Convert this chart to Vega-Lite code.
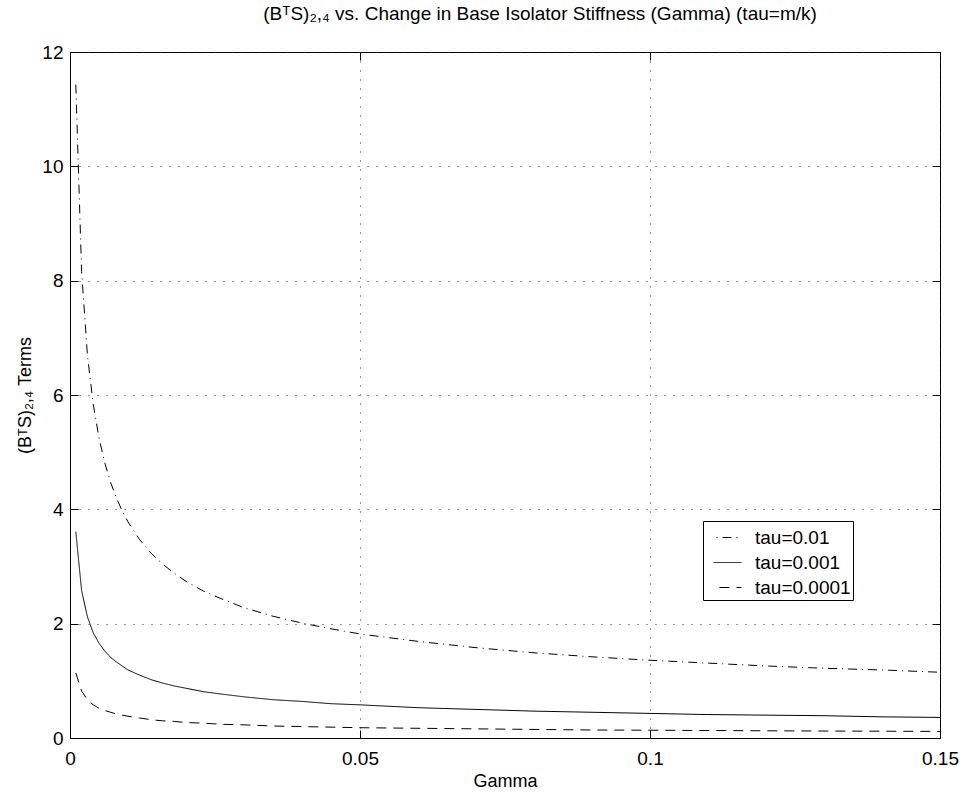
{
  "$schema": "https://vega.github.io/schema/vega-lite/v6.json",
  "width": 870,
  "height": 686,
  "autosize": {"type": "none"},
  "padding": {"left": 70, "top": 52, "right": 25, "bottom": 54},
  "background": "white",
  "config": {
    "font": "Liberation Sans",
    "view": {"stroke": "black", "strokeWidth": 1}
  },
  "title": {
    "text": "(BᵀS)₂,₄ vs. Change in Base Isolator Stiffness (Gamma) (tau=m/k)",
    "fontSize": 19,
    "fontWeight": "normal",
    "color": "black",
    "offset": 19,
    "dx": 35
  },
  "data": {
    "values": [
      {"gamma": 0.001, "series": "tau=0.01", "value": 11.43},
      {"gamma": 0.002, "series": "tau=0.01", "value": 8.16},
      {"gamma": 0.003, "series": "tau=0.01", "value": 6.70},
      {"gamma": 0.004, "series": "tau=0.01", "value": 5.84},
      {"gamma": 0.005, "series": "tau=0.01", "value": 5.25},
      {"gamma": 0.006, "series": "tau=0.01", "value": 4.81},
      {"gamma": 0.007, "series": "tau=0.01", "value": 4.47},
      {"gamma": 0.008, "series": "tau=0.01", "value": 4.20},
      {"gamma": 0.009, "series": "tau=0.01", "value": 3.97},
      {"gamma": 0.010, "series": "tau=0.01", "value": 3.78},
      {"gamma": 0.012, "series": "tau=0.01", "value": 3.47},
      {"gamma": 0.014, "series": "tau=0.01", "value": 3.23},
      {"gamma": 0.016, "series": "tau=0.01", "value": 3.04},
      {"gamma": 0.018, "series": "tau=0.01", "value": 2.88},
      {"gamma": 0.020, "series": "tau=0.01", "value": 2.74},
      {"gamma": 0.023, "series": "tau=0.01", "value": 2.57},
      {"gamma": 0.026, "series": "tau=0.01", "value": 2.44},
      {"gamma": 0.030, "series": "tau=0.01", "value": 2.28},
      {"gamma": 0.035, "series": "tau=0.01", "value": 2.13},
      {"gamma": 0.040, "series": "tau=0.01", "value": 2.01},
      {"gamma": 0.045, "series": "tau=0.01", "value": 1.91},
      {"gamma": 0.050, "series": "tau=0.01", "value": 1.82},
      {"gamma": 0.060, "series": "tau=0.01", "value": 1.69},
      {"gamma": 0.070, "series": "tau=0.01", "value": 1.58},
      {"gamma": 0.080, "series": "tau=0.01", "value": 1.49},
      {"gamma": 0.090, "series": "tau=0.01", "value": 1.42},
      {"gamma": 0.100, "series": "tau=0.01", "value": 1.36},
      {"gamma": 0.110, "series": "tau=0.01", "value": 1.31},
      {"gamma": 0.120, "series": "tau=0.01", "value": 1.26},
      {"gamma": 0.130, "series": "tau=0.01", "value": 1.22},
      {"gamma": 0.140, "series": "tau=0.01", "value": 1.19},
      {"gamma": 0.150, "series": "tau=0.01", "value": 1.15},
      {"gamma": 0.001, "series": "tau=0.001", "value": 3.61},
      {"gamma": 0.002, "series": "tau=0.001", "value": 2.58},
      {"gamma": 0.003, "series": "tau=0.001", "value": 2.12},
      {"gamma": 0.004, "series": "tau=0.001", "value": 1.84},
      {"gamma": 0.005, "series": "tau=0.001", "value": 1.66},
      {"gamma": 0.006, "series": "tau=0.001", "value": 1.52},
      {"gamma": 0.007, "series": "tau=0.001", "value": 1.41},
      {"gamma": 0.008, "series": "tau=0.001", "value": 1.33},
      {"gamma": 0.009, "series": "tau=0.001", "value": 1.26},
      {"gamma": 0.010, "series": "tau=0.001", "value": 1.19},
      {"gamma": 0.012, "series": "tau=0.001", "value": 1.10},
      {"gamma": 0.014, "series": "tau=0.001", "value": 1.02},
      {"gamma": 0.016, "series": "tau=0.001", "value": 0.96},
      {"gamma": 0.018, "series": "tau=0.001", "value": 0.91},
      {"gamma": 0.020, "series": "tau=0.001", "value": 0.87},
      {"gamma": 0.023, "series": "tau=0.001", "value": 0.81},
      {"gamma": 0.026, "series": "tau=0.001", "value": 0.77},
      {"gamma": 0.030, "series": "tau=0.001", "value": 0.72},
      {"gamma": 0.035, "series": "tau=0.001", "value": 0.67},
      {"gamma": 0.040, "series": "tau=0.001", "value": 0.64},
      {"gamma": 0.045, "series": "tau=0.001", "value": 0.60},
      {"gamma": 0.050, "series": "tau=0.001", "value": 0.58},
      {"gamma": 0.060, "series": "tau=0.001", "value": 0.53},
      {"gamma": 0.070, "series": "tau=0.001", "value": 0.50},
      {"gamma": 0.080, "series": "tau=0.001", "value": 0.47},
      {"gamma": 0.090, "series": "tau=0.001", "value": 0.45},
      {"gamma": 0.100, "series": "tau=0.001", "value": 0.43},
      {"gamma": 0.110, "series": "tau=0.001", "value": 0.41},
      {"gamma": 0.120, "series": "tau=0.001", "value": 0.40},
      {"gamma": 0.130, "series": "tau=0.001", "value": 0.39},
      {"gamma": 0.140, "series": "tau=0.001", "value": 0.37},
      {"gamma": 0.150, "series": "tau=0.001", "value": 0.36},
      {"gamma": 0.001, "series": "tau=0.0001", "value": 1.14},
      {"gamma": 0.002, "series": "tau=0.0001", "value": 0.82},
      {"gamma": 0.003, "series": "tau=0.0001", "value": 0.67},
      {"gamma": 0.004, "series": "tau=0.0001", "value": 0.58},
      {"gamma": 0.005, "series": "tau=0.0001", "value": 0.52},
      {"gamma": 0.006, "series": "tau=0.0001", "value": 0.48},
      {"gamma": 0.007, "series": "tau=0.0001", "value": 0.45},
      {"gamma": 0.008, "series": "tau=0.0001", "value": 0.42},
      {"gamma": 0.009, "series": "tau=0.0001", "value": 0.40},
      {"gamma": 0.010, "series": "tau=0.0001", "value": 0.38},
      {"gamma": 0.012, "series": "tau=0.0001", "value": 0.35},
      {"gamma": 0.014, "series": "tau=0.0001", "value": 0.32},
      {"gamma": 0.016, "series": "tau=0.0001", "value": 0.30},
      {"gamma": 0.018, "series": "tau=0.0001", "value": 0.29},
      {"gamma": 0.020, "series": "tau=0.0001", "value": 0.27},
      {"gamma": 0.023, "series": "tau=0.0001", "value": 0.26},
      {"gamma": 0.026, "series": "tau=0.0001", "value": 0.24},
      {"gamma": 0.030, "series": "tau=0.0001", "value": 0.23},
      {"gamma": 0.035, "series": "tau=0.0001", "value": 0.21},
      {"gamma": 0.040, "series": "tau=0.0001", "value": 0.20},
      {"gamma": 0.045, "series": "tau=0.0001", "value": 0.19},
      {"gamma": 0.050, "series": "tau=0.0001", "value": 0.18},
      {"gamma": 0.060, "series": "tau=0.0001", "value": 0.17},
      {"gamma": 0.070, "series": "tau=0.0001", "value": 0.16},
      {"gamma": 0.080, "series": "tau=0.0001", "value": 0.15},
      {"gamma": 0.090, "series": "tau=0.0001", "value": 0.14},
      {"gamma": 0.100, "series": "tau=0.0001", "value": 0.136},
      {"gamma": 0.110, "series": "tau=0.0001", "value": 0.131},
      {"gamma": 0.120, "series": "tau=0.0001", "value": 0.126},
      {"gamma": 0.130, "series": "tau=0.0001", "value": 0.122},
      {"gamma": 0.140, "series": "tau=0.0001", "value": 0.119},
      {"gamma": 0.150, "series": "tau=0.0001", "value": 0.115}
    ]
  },
  "layer": [
    {
      "mark": {"type": "line", "color": "black", "strokeWidth": 1},
      "encoding": {
        "x": {
          "field": "gamma",
          "type": "quantitative",
          "scale": {"domain": [0, 0.15], "nice": false, "zero": false},
          "axis": {
            "title": "Gamma",
            "values": [0, 0.05, 0.1, 0.15],
            "format": ".2~f",
            "labelFontSize": 19,
            "labelColor": "black",
            "labelPadding": 19,
            "titleFontSize": 18,
            "titleFontWeight": "normal",
            "titleColor": "black",
            "titlePadding": 4,
            "domainColor": "black",
            "tickColor": "black",
            "tickSize": -8,
            "grid": true,
            "gridColor": "#333333",
            "gridDash": [1, 8],
            "gridWidth": 1,
            "labelFlush": false
          }
        },
        "y": {
          "field": "value",
          "type": "quantitative",
          "scale": {"domain": [0, 12], "nice": false},
          "axis": {
            "title": "(BᵀS)₂,₄ Terms",
            "values": [0, 2, 4, 6, 8, 10, 12],
            "labelFontSize": 19,
            "labelColor": "black",
            "labelPadding": 15,
            "titleFontSize": 18,
            "titleFontWeight": "normal",
            "titleColor": "black",
            "titlePadding": 7,
            "domainColor": "black",
            "tickColor": "black",
            "tickSize": -8,
            "grid": true,
            "gridColor": "#333333",
            "gridDash": [1, 8],
            "gridWidth": 1,
            "labelFlush": false
          }
        },
        "strokeDash": {
          "field": "series",
          "type": "nominal",
          "scale": {
            "domain": ["tau=0.01", "tau=0.001", "tau=0.0001"],
            "range": [[9, 5, 1, 5], [1, 0], [10, 7]]
          },
          "legend": {
            "title": null,
            "orient": "none",
            "legendX": 633,
            "legendY": 469,
            "direction": "vertical",
            "fillColor": "white",
            "strokeColor": "black",
            "padding": 2,
            "symbolType": "stroke",
            "symbolSize": 784,
            "symbolOffset": 8,
            "symbolDashOffset": 11,
            "symbolStrokeColor": "black",
            "symbolStrokeWidth": 1,
            "labelFontSize": 19,
            "labelColor": "black",
            "labelOffset": 13,
            "rowPadding": -5
          }
        }
      }
    },
    {
      "mark": {"type": "line", "opacity": 0},
      "encoding": {
        "x": {
          "field": "gamma",
          "type": "quantitative",
          "axis": {
            "orient": "top",
            "values": [0, 0.05, 0.1, 0.15],
            "labels": false,
            "title": null,
            "domain": false,
            "grid": false,
            "tickColor": "black",
            "tickSize": -8
          }
        },
        "y": {
          "field": "value",
          "type": "quantitative",
          "axis": {
            "orient": "right",
            "values": [0, 2, 4, 6, 8, 10, 12],
            "labels": false,
            "title": null,
            "domain": false,
            "grid": false,
            "tickColor": "black",
            "tickSize": -8
          }
        }
      }
    }
  ],
  "resolve": {"axis": {"x": "independent", "y": "independent"}}
}
